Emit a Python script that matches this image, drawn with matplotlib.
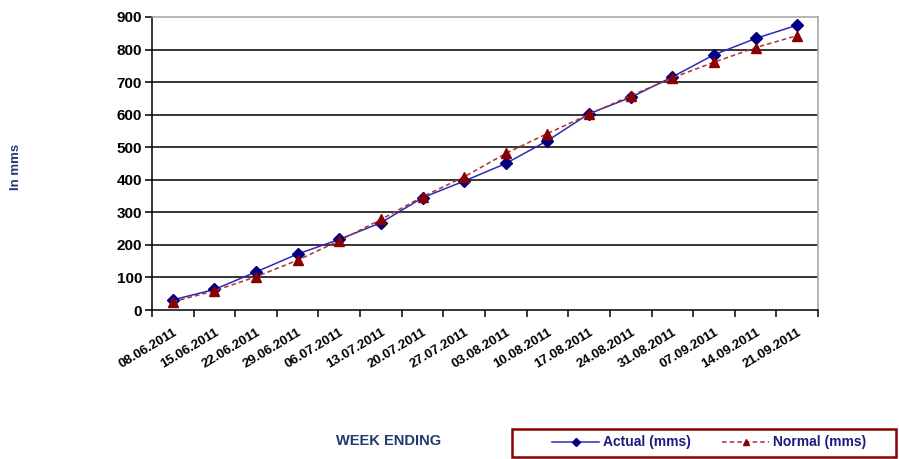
import matplotlib
matplotlib.use("Agg")
import matplotlib.pyplot as plt
from matplotlib.patches import Rectangle

# week ending dates and cumulative rainfall (mm)
weeks = ["08.06.2011", "15.06.2011", "22.06.2011", "29.06.2011", "06.07.2011",
         "13.07.2011", "20.07.2011", "27.07.2011", "03.08.2011", "10.08.2011",
         "17.08.2011", "24.08.2011", "31.08.2011", "07.09.2011", "14.09.2011",
         "21.09.2011"]
actual = [31, 63, 117, 172, 217, 268, 345, 396, 450, 520, 603, 653, 716, 784, 834, 875]
normal = [25, 59, 102, 153, 213, 278, 348, 409, 481, 542, 601, 658, 713, 761, 806, 843]
yticks = [0, 100, 200, 300, 400, 500, 600, 700, 800, 900]

plt.rcParams['font.family'] = ['Liberation Sans', 'DejaVu Sans']

fig = plt.figure(figsize=(8.99, 4.59), dpi=100)
ax = fig.add_axes([0.169, 0.3246, 0.741, 0.6384])

x = list(range(len(weeks)))
ax.plot(x, actual, color="#2b2bb8", lw=1.1, marker="D", markersize=6,
        markerfacecolor="#000080", markeredgecolor="#000080", label="Actual (mms)", zorder=3)
ax.plot(x, normal, color="#b03030", lw=1.1, ls=(0, (3, 2)), marker="^", markersize=7,
        markerfacecolor="#8b0000", markeredgecolor="#8b0000", label="Normal (mms)", zorder=4)

ax.set_xlim(-0.5, len(weeks) - 0.5)
ax.set_ylim(0, 900)
ax.set_yticks(yticks)
ax.set_yticklabels([str(v) for v in yticks], fontsize=11, fontweight="bold")
for v in yticks[1:-1]:
    ax.axhline(v, color="black", lw=1.1, zorder=1)

ax.set_xticks(x)
ax.set_xticklabels(weeks, rotation=31, ha="right", rotation_mode="anchor",
                   fontsize=9.5, fontweight="bold")
ax.tick_params(axis="x", length=0, pad=12)
ax.set_xticks([i - 0.5 for i in range(len(weeks) + 1)], minor=True)
ax.tick_params(axis="x", which="minor", length=5, direction="out", width=1.1)
ax.tick_params(axis="y", length=5, direction="out", width=1.1, pad=2)

for s in ["left", "bottom"]:
    ax.spines[s].set_color("black")
    ax.spines[s].set_linewidth(1.1)
for s in ["top", "right"]:
    ax.spines[s].set_color("#a0a0a0")
    ax.spines[s].set_linewidth(1.1)

fig.text(0.018, 0.636, "In mms", rotation=90, color="#1f3a6e", fontsize=9.5,
         fontweight="bold", ha="center", va="center")
fig.text(0.432, 0.04, "WEEK ENDING", color="#1f3a6e", fontsize=10.5,
         fontweight="bold", ha="center", va="center")

# legend box drawn separately so it spans the same width as the original
fig.patches.append(Rectangle((0.569, 0.005), 0.428, 0.061, transform=fig.transFigure,
                             fill=False, edgecolor="#8b0000", lw=1.8, figure=fig))
leg = fig.legend(loc="center", bbox_to_anchor=(0.789, 0.036), ncol=2, frameon=False,
                 prop={"weight": "bold", "size": 10}, handlelength=3.4,
                 columnspacing=2.2, handletextpad=0.3, markerscale=0.7)
for t in leg.get_texts():
    t.set_color("#1a1a80")

fig.savefig("out.png", dpi=100)
